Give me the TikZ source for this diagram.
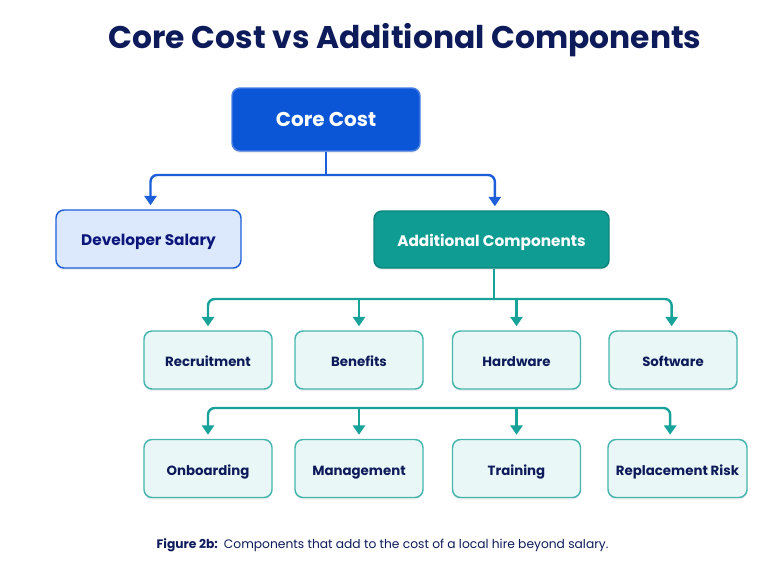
\documentclass[tikz,border=0pt]{standalone}
\usepackage{fontspec}
\setmainfont{Poppins}
\usetikzlibrary{arrows.meta,shadows}

\definecolor{navy}{HTML}{0E1B5A}
\definecolor{coreblue}{HTML}{0A56D6}
\definecolor{lineblue}{HTML}{1C5FD9}
\definecolor{salfill}{HTML}{DCE8FC}
\definecolor{teal}{HTML}{0F9C93}
\definecolor{tealline}{HTML}{18A39A}
\definecolor{itemfill}{HTML}{EAF7F7}

\begin{document}
\begin{tikzpicture}[x=0.75pt, y=-0.75pt,
  box/.style={rounded corners=6pt, inner sep=0pt, align=center, line width=1.1pt,
    text height=2.2ex, text depth=0.3ex,
    drop shadow={shadow xshift=0pt, shadow yshift=-1.5pt, opacity=0.12}},
  item/.style={box, draw=tealline!80, fill=itemfill, text=navy,
    minimum width=96pt, minimum height=43.5pt, font=\fontsize{10}{12}\selectfont\bfseries},
  blink/.style={draw=lineblue, line width=1.8pt, rounded corners=5pt},
  tlink/.style={draw=tealline, line width=1.8pt, rounded corners=5pt},
  tip/.style={-{Triangle[width=9pt,length=7pt]}, shorten >=3pt}]
  \useasboundingbox[fill=white] (0,0) rectangle (768,576);

  % Title
  \node[text=navy, font=\fontsize{23.5}{26}\selectfont\bfseries] (title) at (405,40) {Core Cost vs Additional Components};

  % Top level
  \node[box, draw=lineblue!80, fill=coreblue, text=white, minimum width=141pt, minimum height=47.25pt,
    font=\fontsize{15}{18}\selectfont\bfseries] (core) at (326,119.5) {Core Cost};
  \node[box, draw=lineblue, fill=salfill, text=navy!80!blue, minimum width=138.75pt, minimum height=43.5pt,
    font=\fontsize{11.5}{14}\selectfont\bfseries] (salary) at (148.5,239) {Developer Salary};
  \node[box, draw=teal!85!black, fill=teal, text=white, minimum width=176.25pt, minimum height=42.75pt,
    font=\fontsize{11.5}{14}\selectfont\bfseries] (addc) at (491.5,239.5) {Additional Components};

  % First row of components
  \node[item] (recruit) at (208,360) {Recruitment};
  \node[item] (benefit) at (359,360) {Benefits};
  \node[item] (hardw) at (516.5,360) {Hardware};
  \node[item] (softw) at (673,360) {Software};

  % Second row of components
  \node[item] (onboard) at (208,468.5) {Onboarding};
  \node[item] (manage) at (359,468.5) {Management};
  \node[item] (train) at (516.5,468.5) {Training};
  \node[item, minimum width=104.25pt] (replace) at (677.5,468.5) {Replacement Risk};

  % Core cost split
  \coordinate (csplit) at (326,175);
  \draw[blink] (core.south) -- (csplit);
  \draw[blink, tip] (csplit) -| ([xshift=1.5pt]salary.north);
  \draw[blink, tip] (csplit) -| ([xshift=2.5pt]addc.north);

  % Bar to the first row
  \coordinate (bar1) at (494,299);
  \draw[tlink] (addc.south -| bar1) -- (bar1);
  \draw[tlink, tip] (bar1) -| (recruit.north);
  \draw[tlink, tip] (bar1) -| ([xshift=-1pt]softw.north);
  \draw[tlink, tip] (benefit.north |- bar1) -- (benefit.north);
  \draw[tlink, tip] (hardw.north |- bar1) -- (hardw.north);

  % Bar to the second row
  \coordinate (bar2) at (440,408);
  \draw[tlink, tip] (bar2) -| (onboard.north);
  \draw[tlink, tip] (bar2) -| ([xshift=-5.5pt]replace.north);
  \draw[tlink, tip] (manage.north |- bar2) -- (manage.north);
  \draw[tlink, tip] (train.north |- bar2) -- (train.north);

  % Caption
  \node[anchor=west, text=navy, font=\fontsize{9.2}{11}\selectfont] (caption) at (152,545)
    {\textbf{Figure 2b:}\enspace Components that add to the cost of a local hire beyond salary.};
\end{tikzpicture}
\end{document}
